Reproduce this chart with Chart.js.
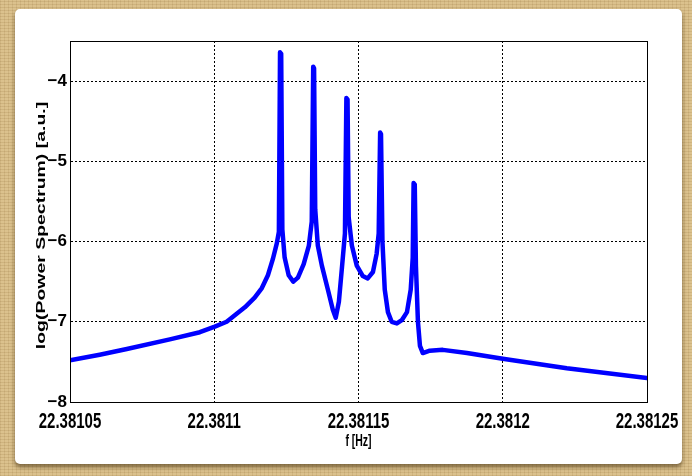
<!DOCTYPE html>
<html>
<head>
<meta charset="utf-8">
<script src="https://cdn.jsdelivr.net/npm/chart.js@4.4.1/dist/chart.umd.min.js"></script>
<style>
  html, body { margin:0; padding:0; }
  body {
    width:692px; height:476px; overflow:hidden; position:relative;
    background-color:#d6ba84;
    background-image:
      repeating-linear-gradient(0deg, rgba(120,90,40,0.10) 0 1px, rgba(255,240,200,0.08) 1px 3px),
      repeating-linear-gradient(90deg, rgba(120,90,40,0.10) 0 1px, rgba(255,240,200,0.06) 1px 4px);
  }
  #card {
    position:absolute; left:15px; top:9px; width:667px; height:455px;
    background:#fff; border-radius:5px;
    box-shadow:0 3px 4px rgba(60,40,10,0.6);
  }
  #spectrum { position:absolute; left:0; top:0; }
</style>
</head>
<body>
<div id="card"></div>
<canvas id="spectrum" width="692" height="476"></canvas>
<script>
// ===== DATA =====
const freqHz = [
  22.38105, 22.3810603, 22.3810697, 22.3810846, 22.381095, 22.3811002, 22.3811043, 22.3811106, 22.381114, 22.3811165,
  22.3811186, 22.3811203, 22.3811217, 22.3811224, 22.3811228, 22.3811232, 22.3811236, 22.3811244, 22.3811258, 22.3811274,
  22.381129, 22.381131, 22.3811328, 22.3811338, 22.3811343, 22.3811346, 22.381135, 22.3811359, 22.3811373, 22.3811394,
  22.3811411, 22.3811421, 22.3811432, 22.3811442, 22.3811453, 22.3811458, 22.3811462, 22.3811466, 22.3811477, 22.3811494,
  22.3811515, 22.3811532, 22.381155, 22.3811563, 22.381157, 22.3811575, 22.3811578, 22.3811583, 22.3811591, 22.3811602,
  22.3811615, 22.3811633, 22.381165, 22.3811668, 22.3811681, 22.3811688, 22.3811691, 22.3811695, 22.3811699, 22.3811706,
  22.3811713, 22.3811723, 22.3811747, 22.3811792, 22.3811876, 22.3812, 22.3812222, 22.38125
];
const logPower = [
  -7.48, -7.41, -7.34, -7.22, -7.13, -7.06, -7.00, -6.82, -6.70, -6.58,
  -6.42, -6.22, -6.02, -5.88, -3.64, -3.66, -5.85, -6.2, -6.42, -6.50,
  -6.45, -6.28, -6.05, -5.75, -3.82, -3.84, -5.6, -6.05, -6.3, -6.6,
  -6.85, -6.95, -6.75, -6.35, -5.9, -4.21, -4.23, -5.7, -6.05, -6.3,
  -6.43, -6.46, -6.38, -6.15, -5.9, -4.64, -4.66, -6.0, -6.6, -6.88,
  -7.0, -7.02, -6.98, -6.88, -6.6, -6.2, -5.27, -5.29, -6.3, -7.0,
  -7.3, -7.39, -7.36, -7.35, -7.39, -7.46, -7.58, -7.70
];
const xTicks = [22.38105, 22.3811, 22.38115, 22.3812, 22.38125];
const xTickLabels = ["22.38105", "22.3811", "22.38115", "22.3812", "22.38125"];
const yTicks = [-8, -7, -6, -5, -4];
const yTickLabels = ["\u22128", "\u22127", "\u22126", "\u22125", "\u22124"];
const yMax = -3.5;

// ===== HELPERS =====
const sans = "'Liberation Sans', Arial, sans-serif";

// stretch a scale's text vertically around a given y (the picture has tall glyphs)
function stretchY(scale, method, k, cy, shift){
  const orig = scale[method].bind(scale);
  scale[method] = function(...args){
    const c = scale.ctx;
    c.save();
    c.translate(0, cy + (shift || 0));
    c.scale(1, k);
    c.translate(0, -cy);
    orig(...args);
    c.restore();
  };
}

const matlabAxes = {
  id: 'matlabAxes',
  beforeDraw(chart){
    if (chart.$stretched) return;
    chart.$stretched = true;
    const x = chart.scales.x, y = chart.scales.y;
    stretchY(x, 'drawLabels', 1.45, x.top);
    stretchY(x, 'drawTitle', 1.55, x.top);
    stretchY(y, 'drawTitle', 1.44, (y.top + y.bottom) / 2, 4);
  },
  afterDatasetsDraw(chart){
    const {ctx, chartArea: a} = chart;
    ctx.save();
    ctx.strokeStyle = '#000';
    ctx.lineWidth = 1;
    ctx.strokeRect(a.left + 0.5, a.top + 0.5, a.right - a.left, a.bottom - a.top);
    ctx.restore();
  }
};

// ===== CHART =====
new Chart(document.getElementById('spectrum'), {
  type: 'scatter',
  data: {
    datasets: [{
      data: freqHz.map((f, i) => ({x: f, y: logPower[i]})),
      showLine: true,
      borderColor: '#0000ff',
      borderWidth: 4.5,
      borderJoinStyle: 'round',
      borderCapStyle: 'round',
      pointRadius: 0
    }]
  },
  options: {
    responsive: false,
    devicePixelRatio: 1,
    animation: false,
    layout: { padding: { top: 41, right: 45, bottom: 0, left: 0 } },
    plugins: { legend: { display: false }, tooltip: { enabled: false } },
    scales: {
      x: {
        type: 'linear',
        min: xTicks[0],
        max: xTicks[xTicks.length - 1],
        afterBuildTicks: s => { s.ticks = xTicks.map(v => ({value: v})); },
        afterFit: s => { s.height = 74; },
        ticks: {
          callback: (v, i) => xTickLabels[i],
          autoSkip: false, maxRotation: 0,
          color: '#000', padding: 5,
          font: { family: sans, size: 15, weight: 'bold' }
        },
        grid: { color: '#000', lineWidth: 1, drawTicks: false },
        border: { display: true, color: '#000', width: 1, dash: [2, 2] },
        title: {
          display: true, text: 'f [Hz]', color: '#000',
          font: { family: sans, size: 10.5, weight: 'bold' },
          padding: { top: 0, bottom: 42 }
        }
      },
      y: {
        type: 'linear',
        min: yTicks[0],
        max: yMax,
        afterBuildTicks: s => { s.ticks = yTicks.map(v => ({value: v})); },
        afterFit: s => { s.width = 70; },
        ticks: {
          callback: (v, i) => yTickLabels[i],
          color: '#000', padding: 3,
          font: { family: sans, size: 17, weight: 'bold' }
        },
        grid: { color: '#000', lineWidth: 1, drawTicks: false },
        border: { display: true, color: '#000', width: 1, dash: [2, 2] },
        title: {
          display: true, text: 'log(Power Spectrum) [a.u.]', color: '#000',
          font: { family: sans, size: 13.5, weight: 'bold' },
          padding: { top: 33, bottom: 0 }
        }
      }
    }
  },
  plugins: [matlabAxes]
});
</script>
</body>
</html>
